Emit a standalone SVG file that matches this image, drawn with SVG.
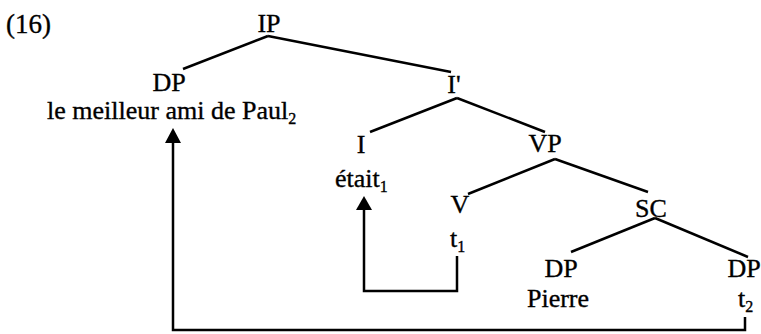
<svg xmlns="http://www.w3.org/2000/svg" width="761" height="334" viewBox="0 0 761 334">
<style>
text{font-family:"Liberation Serif","Times New Roman",serif;font-size:26px;fill:#000;stroke:#000;stroke-width:0.35}
.c{text-anchor:middle}
.sub{font-size:16px}
.ln{stroke:#000;stroke-width:2.5;fill:none}
.mv{stroke:#000;stroke-width:2.5;fill:none}
.ah{fill:#000}
</style>
<rect width="761" height="334" fill="#fff"/>
<text x="6" y="33" style="font-size:27px">(16)</text>
<g id="connectors">
<path class="ln" d="M268 36 L183 69"/>
<path class="ln" d="M268 36 L451 72"/>
<path class="ln" d="M457 98 L370 132"/>
<path class="ln" d="M457 98 L545 132"/>
<path class="ln" d="M555 159 L468 194"/>
<path class="ln" d="M555 159 L648 192"/>
<path class="ln" d="M655 218 L571 252"/>
<path class="ln" d="M655 218 L748 257"/>
<path class="mv" d="M457 256 L457 291 L364 291 L364 208"/>
<path class="ah" d="M364 196 L372 210 L356 210 Z"/>
<path class="mv" d="M745 317 L745 330 L173 330 L173 141"/>
<path class="ah" d="M173 128 L181 143 L165 143 Z"/>
</g>
<g id="n-ip"><text class="c" x="269" y="32">IP</text></g>
<g id="n-dp1"><text class="c" x="169" y="91">DP</text><text x="47" y="119">le meilleur ami de Paul<tspan class="sub" dy="5">2</tspan></text></g>
<g id="n-ibar"><text class="c" x="454" y="93">I'</text></g>
<g id="n-i"><text class="c" x="361" y="153">I</text><text x="335" y="187">était<tspan class="sub" dy="5">1</tspan></text></g>
<g id="n-vp"><text class="c" x="545" y="152">VP</text></g>
<g id="n-v"><text class="c" x="460" y="213">V</text><text x="450" y="247">t<tspan class="sub" dy="5">1</tspan></text></g>
<g id="n-sc"><text class="c" x="651" y="217">SC</text></g>
<g id="n-dp2"><text class="c" x="561" y="277">DP</text><text class="c" x="558" y="307">Pierre</text></g>
<g id="n-dp3"><text class="c" x="744" y="277">DP</text><text x="738" y="307">t<tspan class="sub" dy="5">2</tspan></text></g>
</svg>
